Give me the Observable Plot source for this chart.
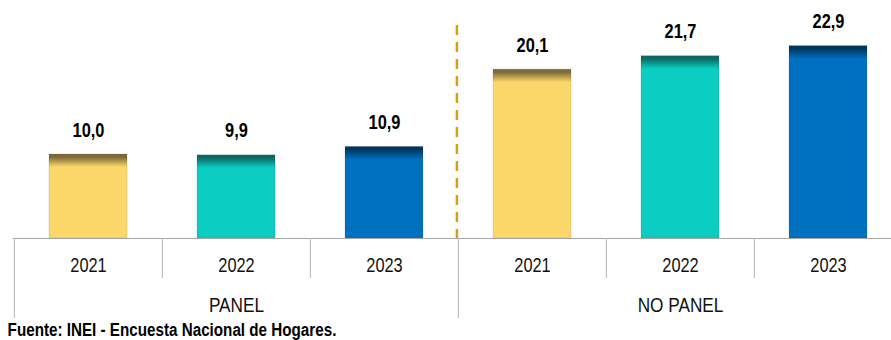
<!DOCTYPE html>
<html><head><meta charset="utf-8">
<script src="https://cdn.jsdelivr.net/npm/d3@7"></script>
<script src="https://cdn.jsdelivr.net/npm/@observablehq/plot@0.6"></script>
<style>
body{margin:0;background:#fff;}
#chart svg{display:block;}
.fuente{font-family:"Liberation Sans Narrow","Arial Narrow","Liberation Sans",Arial,sans-serif;font-weight:bold;font-size:18px;line-height:20px;padding-left:9px;color:#000;white-space:nowrap;transform:scaleX(0.845);transform-origin:0 0;}
</style></head><body>
<div id="chart"></div>
<div class="fuente">Fuente: INEI - Encuesta Nacional de Hogares.</div>
<script>
const grupos = ["PANEL", "PANEL", "PANEL", "NO PANEL", "NO PANEL", "NO PANEL"];
const anios = ["2021", "2022", "2023", "2021", "2022", "2023"];
const valores = [10.0, 9.9, 10.9, 20.1, 21.7, 22.9];
const anioColores = {"2021": "#FCD86A", "2022": "#0BCDC1", "2023": "#0070C0"};
const anioOscuros = {"2021": "#7E6A38", "2022": "#0A6A64", "2023": "#00375F"};

const data = valores.map((v, i) => ({
  key: grupos[i] + " " + anios[i], grupo: grupos[i], anio: anios[i], valor: v, i
}));

const W = 891, H = 320;
const xRange = [13, 902];
const step = (xRange[1] - xRange[0]) / data.length;
const FONT = '"Liberation Sans","Arial",sans-serif';
const NARROW = 0.82;
const fmt = v => d3.format(".1f")(v).replace(".", ",");
const firstOfGroup = data.filter((d, i) => i === 0 || grupos[i - 1] !== d.grupo);
const innerSeps = data.filter((d, i) => i > 0 && grupos[i - 1] === d.grupo);
const midOfGroup = data.filter(d => d.anio === "2022");
const noPanelStart = data.filter((d, i) => i > 0 && grupos[i - 1] !== d.grupo);

const chart = Plot.plot({
  width: W, height: H,
  marginLeft: 13, marginRight: 0, marginTop: 28, marginBottom: 82,
  style: {fontFamily: FONT, background: "#fff", color: "#000"},
  x: {type: "band", domain: data.map(d => d.key), range: xRange, paddingInner: 0.474, paddingOuter: 0.237, axis: null},
  y: {domain: [0, 25], axis: null},
  color: {type: "identity"},
  marks: [
    Plot.barY(data, {x: "key", y: "valor", fill: d => `url(#grad${d.i})`, stroke: "#000", strokeOpacity: 0.1, strokeWidth: 1}),
    Plot.ruleY([0], {stroke: "#a6a6a6", strokeWidth: 1.2}),
    Plot.ruleX(innerSeps, {x: "key", y1: d => 0, y2: d => 0, dx: -step / 2, insetBottom: -40, stroke: "#bdbdbd", strokeWidth: 1.2}),
    Plot.ruleX(firstOfGroup, {x: "key", y1: d => 0, y2: d => 0, dx: -step / 2, insetBottom: -80, stroke: "#bdbdbd", strokeWidth: 1.2}),
    Plot.ruleX(noPanelStart, {x: "key", dx: -step / 2 - 1.5, insetTop: -3, stroke: "#D4A20C", strokeWidth: 2.5, strokeDasharray: "10,7"}),
    Plot.text(data, {x: "key", y: d => 0, text: "anio", dy: 27, lineAnchor: "middle", fontSize: 20, fill: "#111"}),
    Plot.text(midOfGroup, {x: "key", y: d => 0, text: "grupo", dy: 67, lineAnchor: "middle", fontSize: 21, fill: "#111"}),
    Plot.text(data, {x: "key", y: "valor", text: d => fmt(d.valor), dy: -18, lineAnchor: "bottom", fontSize: 20, fontWeight: "bold", fill: "#000"})
  ]
});

// condense texts horizontally (narrow typeface look)
chart.querySelectorAll("text").forEach(t => {
  const tr = t.getAttribute("transform") || "";
  t.setAttribute("transform", tr + ` scale(${NARROW},1)`);
});

// gradients for the darker top edge of each bar
const yScale = chart.scale("y");
const ns = "http://www.w3.org/2000/svg";
const defs = document.createElementNS(ns, "defs");
data.forEach(d => {
  const h = yScale.apply(0) - yScale.apply(d.valor);
  const g = document.createElementNS(ns, "linearGradient");
  g.setAttribute("id", "grad" + d.i);
  g.setAttribute("x1", "0"); g.setAttribute("y1", "0");
  g.setAttribute("x2", "0"); g.setAttribute("y2", "1");
  const stops = [[0, anioOscuros[d.anio]], [3 / h, anioOscuros[d.anio]], [13 / h, anioColores[d.anio]], [1, anioColores[d.anio]]];
  stops.forEach(([o, c]) => {
    const s = document.createElementNS(ns, "stop");
    s.setAttribute("offset", o);
    s.setAttribute("stop-color", c);
    g.appendChild(s);
  });
  defs.appendChild(g);
});
chart.insertBefore(defs, chart.firstChild);
document.getElementById("chart").appendChild(chart);
</script>
</body></html>
